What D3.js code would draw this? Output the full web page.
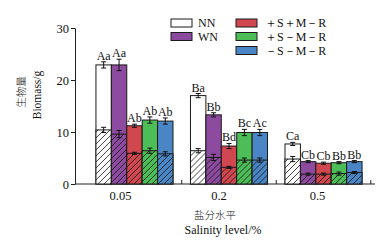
<!DOCTYPE html>
<html>
<head>
<meta charset="utf-8">
<script src="https://cdn.jsdelivr.net/npm/d3@7"></script>
<style>
  body { margin: 0; background: #fff; }
  svg { display: block; }
  text { font-family: "Liberation Serif", "Times New Roman", serif; fill: #111; }
  .cjk { font-family: "Noto Sans CJK SC", sans-serif; font-weight: 300; }
</style>
</head>
<body>
<svg id="chart" width="379" height="240"></svg>
<script>
// salinity levels (x groups) and treatments (bars in each group)
var groups = ["0.05", "0.2", "0.5"];
var treatments = ["NN", "WN", "＋S＋M－R", "＋S－M－R", "－S－M－R"];
var colors = ["#ffffff", "#8c4b9f", "#d0474f", "#4dbd57", "#4a86c6"];

// total biomass (whole bar) and its error
var total = [[22.9, 22.9, 11.2, 12.3, 12.1], [17.0, 13.3, 7.3, 9.9, 9.9], [7.7, 4.3, 4.0, 4.1, 4.3]];
var totalErr = [[0.6, 1.1, 0.3, 0.6, 0.6], [0.4, 0.4, 0.5, 0.6, 0.6], [0.3, 0.2, 0.2, 0.2, 0.2]];
// hatched lower part and its error
var lower = [[10.4, 9.6, 5.9, 6.4, 5.8], [6.4, 5.1, 3.2, 4.6, 4.6], [4.8, 1.9, 1.9, 2.0, 2.2]];
var lowerErr = [[0.5, 0.7, 0.2, 0.5, 0.4], [0.4, 0.6, 0.2, 0.4, 0.4], [0.5, 0.2, 0.2, 0.3, 0.2]];
// significance letters
var letters = [["Aa", "Aa", "Ab", "Ab", "Ab"], ["Ba", "Bb", "Bd", "Bc", "Ac"], ["Ca", "Cb", "Cb", "Bb", "Bb"]];
var yTicks = [0, 10, 20, 30];

var svg = d3.select("#chart");

var yscale = d3.scaleLinear().domain([0, 30]).range([184, 28]);

var xscale = d3.scaleBand()
    .domain(groups)
    .range([86.5, 371.5])
    .paddingInner(0.185)
    .paddingOuter(0.1);

var inner = d3.scaleBand()
    .domain(d3.range(treatments.length))
    .range([0, xscale.bandwidth()]);

// label positions under the groups
var labelScale = d3.scalePoint().domain(groups).range([120, 317]);

// hatch patterns, one per colour
var defs = svg.append("defs");
colors.forEach(function (c, i) {
    var p = defs.append("pattern")
        .attr("id", "hatch" + i)
        .attr("patternUnits", "userSpaceOnUse")
        .attr("width", 6)
        .attr("height", 6);
    p.append("rect").attr("width", 6).attr("height", 6).attr("fill", c);
    p.append("path")
        .attr("d", "M-1,1 L1,-1 M0,6 L6,0 M5,7 L7,5")
        .attr("stroke", "#111")
        .attr("stroke-width", 0.8);
});

// y axis
var yaxis = d3.axisLeft(yscale)
    .tickValues(yTicks)
    .tickSize(4)
    .tickPadding(2)
    .tickSizeOuter(0);

var yg = svg.append("g")
    .attr("transform", "translate(75,0)")
    .call(yaxis);
yg.selectAll("text").style("font-size", "12.5px").style("font-family", "Liberation Serif, serif");
yg.selectAll("path, line").attr("stroke", "#222");

// x axis: line + boundary ticks + labels
svg.append("line")
    .attr("x1", 75).attr("x2", 375)
    .attr("y1", yscale(0)).attr("y2", yscale(0))
    .attr("stroke", "#222");

groups.forEach(function (g) {
    var tx = xscale(g) + xscale.bandwidth() + xscale.step() * xscale.paddingInner() / 2;
    svg.append("line")
        .attr("x1", tx).attr("x2", tx)
        .attr("y1", yscale(0)).attr("y2", yscale(0) - 4)
        .attr("stroke", "#222");
});

var xg = svg.append("g")
    .attr("transform", "translate(0," + yscale(0) + ")")
    .call(d3.axisBottom(labelScale).tickSize(0).tickPadding(7));
xg.select(".domain").remove();
xg.selectAll("text").style("font-size", "12.5px").style("font-family", "Liberation Serif, serif");

// bars
groups.forEach(function (g, gi) {
    var grp = svg.append("g").attr("transform", "translate(" + xscale(g) + ",0)");
    var bw = inner.bandwidth();

    treatments.forEach(function (t, ti) {
        var x0 = inner(ti);
        var cx = x0 + bw / 2;

        grp.append("rect")
            .attr("x", x0).attr("width", bw)
            .attr("y", yscale(total[gi][ti]))
            .attr("height", yscale(0) - yscale(total[gi][ti]))
            .attr("fill", colors[ti])
            .attr("stroke", "#1a1a1a")
            .attr("stroke-width", 1);

        grp.append("rect")
            .attr("x", x0).attr("width", bw)
            .attr("y", yscale(lower[gi][ti]))
            .attr("height", yscale(0) - yscale(lower[gi][ti]))
            .attr("fill", "url(#hatch" + ti + ")")
            .attr("stroke", "#1a1a1a")
            .attr("stroke-width", 1);

        // error bars
        [[total[gi][ti], totalErr[gi][ti]], [lower[gi][ti], lowerErr[gi][ti]]].forEach(function (d) {
            var top = yscale(d[0] + d[1]), bot = yscale(d[0] - d[1]);
            grp.append("line").attr("x1", cx).attr("x2", cx).attr("y1", top).attr("y2", bot)
                .attr("stroke", "#111").attr("stroke-width", 1);
            grp.append("line").attr("x1", cx - 2.5).attr("x2", cx + 2.5).attr("y1", top).attr("y2", top)
                .attr("stroke", "#111").attr("stroke-width", 1);
            grp.append("line").attr("x1", cx - 2.5).attr("x2", cx + 2.5).attr("y1", bot).attr("y2", bot)
                .attr("stroke", "#111").attr("stroke-width", 1);
        });

        grp.append("text")
            .attr("x", cx)
            .attr("y", yscale(total[gi][ti] + totalErr[gi][ti]) - 2)
            .attr("text-anchor", "middle")
            .style("font-size", "12px")
            .text(letters[gi][ti]);
    });
});

// legend
var legendPos = [[171, 19], [171, 32.5], [236, 19], [236, 32.5], [236, 46.5]];
treatments.forEach(function (t, i) {
    var lg = svg.append("g").attr("transform", "translate(" + legendPos[i][0] + "," + legendPos[i][1] + ")");
    lg.append("rect")
        .attr("width", 21).attr("height", 8)
        .attr("fill", colors[i])
        .attr("stroke", "#1a1a1a");
    lg.append("text")
        .attr("x", i < 2 ? 27 : 29)
        .attr("y", 8)
        .style("font-size", "12px")
        .text(t);
});

// axis titles
svg.append("text")
    .attr("class", "cjk")
    .attr("transform", "translate(24.5,92) rotate(-90)")
    .attr("text-anchor", "middle")
    .style("font-size", "10.5px")
    .text("生物量");

svg.append("text")
    .attr("transform", "translate(40.5,95) rotate(-90)")
    .attr("text-anchor", "middle")
    .style("font-size", "11.5px")
    .text("Biomass/g");

svg.append("text")
    .attr("class", "cjk")
    .attr("x", 215).attr("y", 218.5)
    .attr("text-anchor", "middle")
    .style("font-size", "10.5px")
    .text("盐分水平");

svg.append("text")
    .attr("x", 223).attr("y", 234)
    .attr("text-anchor", "middle")
    .style("font-size", "12px")
    .text("Salinity level/%");
</script>
</body>
</html>
